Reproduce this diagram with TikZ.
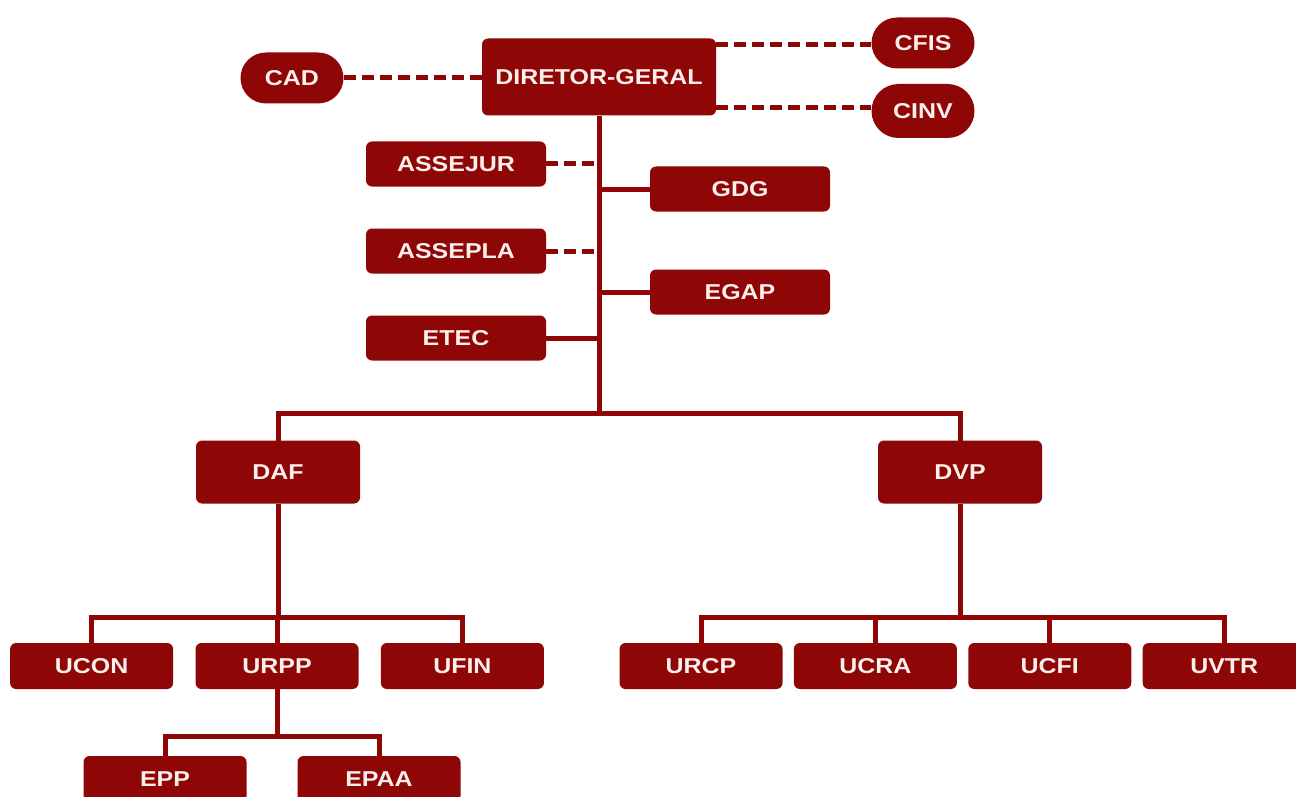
\documentclass[tikz,border=0pt]{standalone}
\usepackage{fontspec}
\setmainfont{Liberation Sans}[FakeStretch=1.16]
\usetikzlibrary{positioning,shapes.misc}

\definecolor{vinho}{RGB}{142,6,6}
\definecolor{letra}{RGB}{252,240,236}

\begin{document}
\begin{tikzpicture}[x=1pt,y=-1pt,
  caixa/.style={fill=vinho,rounded corners=6pt,text=letra,inner sep=0pt,
    font=\fontsize{21.5}{25}\selectfont\bfseries,minimum width=180pt,minimum height=45pt},
  pilula/.style={fill=vinho,rounded rectangle,text=letra,inner sep=0pt,
    font=\fontsize{21.5}{25}\selectfont\bfseries,minimum width=103pt,minimum height=51pt},
  unidade/.style={caixa,minimum width=163pt,minimum height=46pt},
  liga/.style={draw=vinho,line width=5pt},
  tracos/.style={liga,dash pattern=on 12pt off 6pt}]

  \useasboundingbox (0,0) rectangle (1296,797);

  \node[caixa,minimum width=234pt,minimum height=77pt] (dg) at (599,77) {DIRETOR-GERAL};

  \node[pilula] (cad)  at (292,78)  {CAD};
  \node[pilula] (cfis) at (923,43)  {CFIS};
  \node[pilula,minimum height=54pt] (cinv) at (923,111) {CINV};

  \node[caixa] (assejur) at (456,164) {ASSEJUR};
  \node[caixa] (assepla) at (456,251) {ASSEPLA};
  \node[caixa] (etec)    at (456,338) {ETEC};
  \node[caixa] (gdg)     at (740,189) {GDG};
  \node[caixa] (egap)    at (740,292) {EGAP};

  \node[caixa,minimum width=164pt,minimum height=63pt] (daf) at (278,472) {DAF};
  \node[caixa,minimum width=164pt,minimum height=63pt] (dvp) at (960,472) {DVP};

  \node[unidade] (urpp) at (277,666) {URPP};
  \node[unidade] (ucon) [left = 22pt of urpp]  {UCON};
  \node[unidade] (ufin) [right = 22pt of urpp] {UFIN};

  \node[unidade] (epp)  at (165,779) {EPP};
  \node[unidade] (epaa) at (379,779) {EPAA};

  \node[unidade] (urcp) at (701,666) {URCP};
  \node[unidade] (ucra) [right = 11pt of urcp] {UCRA};
  \node[unidade] (ucfi) [right = 11pt of ucra] {UCFI};
  \node[unidade] (uvtr) [right = 11pt of ucfi] {UVTR};

  % conselhos
  \draw[tracos] (cad.east) -- (dg.west |- cad.east);
  \draw[tracos] (dg.east |- 0,45) -- (cfis.west |- 0,45);
  \draw[tracos] (dg.east |- 0,108) -- (cinv.west |- 0,108);

  % tronco
  \coordinate (barra) at (599,413);
  \draw[liga] (dg.south) -- (barra);
  \draw[tracos] (assejur.east) -- (barra |- assejur.east);
  \draw[tracos] (assepla.east) -- (barra |- assepla.east);
  \draw[liga] (etec.east) -- (barra |- etec.east);
  \draw[liga] (gdg.west) -- (barra |- gdg.west);
  \draw[liga] (egap.west) -- (barra |- egap.west);
  \draw[liga,line cap=rect] (daf.north) |- (barra) -| (dvp.north);

  % DAF
  \coordinate (bdaf) at (0,617);
  \coordinate (burpp) at (0,736);
  \draw[liga] (daf.south) -- (daf.south |- bdaf);
  \draw[liga,line cap=rect] (ucon.north) -- (ucon.north |- bdaf) -- (ufin.north |- bdaf) -- (ufin.north);
  \draw[liga] (urpp.north) -- (urpp.north |- bdaf);
  \draw[liga,line cap=rect] (urpp.south) -- (urpp.south |- burpp);
  \draw[liga,line cap=rect] (epp.north) -- (epp.north |- burpp) -- (epaa.north |- burpp) -- (epaa.north);

  % DVP
  \coordinate (bdvp) at (0,617);
  \draw[liga] (dvp.south) -- (dvp.south |- bdvp);
  \draw[liga,line cap=rect] (urcp.north) -- (urcp.north |- bdvp) -- (uvtr.north |- bdvp) -- (uvtr.north);
  \draw[liga] (ucra.north) -- (ucra.north |- bdvp);
  \draw[liga] (ucfi.north) -- (ucfi.north |- bdvp);

\end{tikzpicture}
\end{document}
